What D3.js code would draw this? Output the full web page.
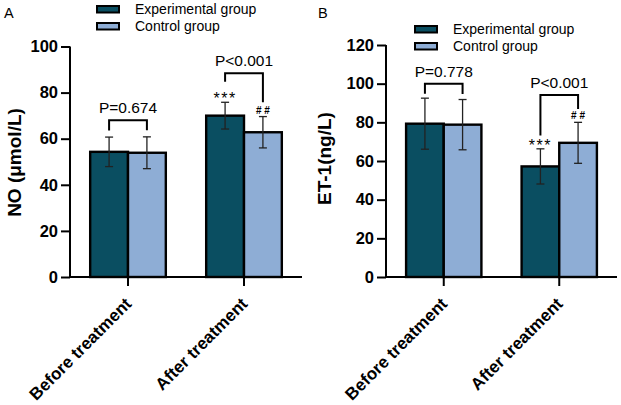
<!DOCTYPE html>
<html><head><meta charset="utf-8">
<script src="https://cdn.jsdelivr.net/npm/d3@7"></script>
<style>
html,body{margin:0;padding:0;background:#fff;}
svg{display:block;font-family:"Liberation Sans",Arial,Helvetica,sans-serif;}
</style></head>
<body>
<svg id="chart" width="621" height="405"></svg>
<script>
// ---- data ----
const categories = ["Before treatment", "After treatment"];
const seriesNames = ["Experimental group", "Control group"];

const noExp = [54.3, 70.0];
const noExpSd = [6.4, 5.8];
const noCtl = [53.9, 62.8];
const noCtlSd = [6.9, 6.8];

const etExp = [79.3, 57.2];
const etExpSd = [13.2, 9.1];
const etCtl = [78.8, 69.4];
const etCtlSd = [13.0, 10.6];

const noTicks = [0, 20, 40, 60, 80, 100];
const etTicks = [0, 20, 40, 60, 80, 100, 120];

const noPLabels = ["P=0.674", "P<0.001"];
const etPLabels = ["P=0.778", "P<0.001"];
const noMarks = [["", ""], ["***", "# #"]];
const etMarks = [["", ""], ["***", "# #"]];

// ---- style ----
const colors = ["#0a4e61", "#8eadd5"];
const svg = d3.select("#chart");

function panel(o) {
  const g = svg.append("g");
  const x = d3.scaleBand().domain(categories).range([o.left, o.right]).paddingInner(0.348).paddingOuter(0.174);
  const xs = d3.scaleBand().domain([0, 1]).range([0, x.bandwidth()]);
  const y = d3.scaleLinear().domain([0, o.max]).range([o.bottom, o.top]);
  const series = [o.exp, o.ctl];
  const sds = [o.expSd, o.ctlSd];

  // bars
  series.forEach((vals, s) => {
    g.selectAll(null).data(categories).enter().append("rect")
      .attr("x", d => x(d) + xs(s))
      .attr("width", xs.bandwidth())
      .attr("y", (d, i) => y(vals[i]))
      .attr("height", (d, i) => y(0) - y(vals[i]))
      .attr("fill", colors[s]).attr("stroke", "#000").attr("stroke-width", 2.4);
  });
  // error bars
  series.forEach((vals, s) => {
    categories.forEach((c, i) => {
      const cx = x(c) + xs(s) + xs.bandwidth() / 2;
      const y1 = y(vals[i] + sds[s][i]), y2 = y(vals[i] - sds[s][i]);
      g.append("line").attr("x1", cx).attr("x2", cx).attr("y1", y1).attr("y2", y2)
        .attr("stroke", "#222").attr("stroke-width", 1.3);
      [y1, y2].forEach(yy => g.append("line").attr("x1", cx - 4).attr("x2", cx + 4)
        .attr("y1", yy).attr("y2", yy).attr("stroke", "#222").attr("stroke-width", 1.3));
    });
  });

  // axes
  const ya = d3.axisLeft(y).tickValues(o.ticks).tickSize(9).tickPadding(3).tickFormat(d3.format("d"));
  const yg = g.append("g").attr("transform", `translate(${o.left},0)`).call(ya);
  yg.select(".domain").attr("stroke-width", 2).attr("d", `M-0,${o.top}V${o.bottom}`);
  yg.selectAll(".tick line").attr("stroke-width", 2);
  yg.selectAll(".tick text").attr("font-size", 16.5).attr("font-weight", "bold").attr("fill", "#000")
    .attr("font-family", '"Liberation Sans",Arial,sans-serif');

  const xa = d3.axisBottom(x).tickSize(9).tickFormat("");
  const xg = g.append("g").attr("transform", `translate(0,${o.bottom})`).call(xa);
  xg.select(".domain").attr("stroke-width", 2).attr("d", `M${o.left},0H${o.right}`);
  xg.selectAll(".tick line").attr("stroke-width", 2);
  categories.forEach(c => {
    const px = x(c) + x.bandwidth() / 2 + 4.5, py = o.bottom + 28;
    g.append("text").attr("transform", `translate(${px},${py}) rotate(-45)`)
      .attr("text-anchor", "end").attr("font-size", 17).attr("font-weight", "bold").text(c);
  });

  // y label
  g.append("text").attr("transform", `translate(${o.labelX},${o.labelY}) rotate(-90)`)
    .attr("text-anchor", "middle").attr("font-size", 19).attr("font-weight", "bold").text(o.label);

  // significance markers & brackets
  categories.forEach((c, i) => {
    const cxs = [0, 1].map(s => x(c) + xs(s) + xs.bandwidth() / 2);
    const tops = [0, 1].map(s => y(series[s][i] + sds[s][i]));
    if (o.marks[i][0]) g.append("text").attr("x", cxs[0]).attr("y", tops[0] + 2)
      .attr("text-anchor", "middle").attr("font-size", 16).attr("letter-spacing", 1.5).text(o.marks[i][0]);
    if (o.marks[i][1]) g.append("text").attr("x", cxs[1]).attr("y", tops[1] - 3)
      .attr("text-anchor", "middle").attr("font-size", 10).attr("font-weight", "bold").text(o.marks[i][1]);
    const br = o.brackets[i];
    const l0 = tops[0] - br.gap[0], l1 = tops[1] - br.gap[1];
    const top = Math.min(l0, l1) - br.rise;
    g.append("path").attr("d", `M${cxs[0]},${l0}V${top}H${cxs[1]}V${l1}`)
      .attr("fill", "none").attr("stroke", "#000").attr("stroke-width", 2);
    g.append("text").attr("x", (cxs[0] + cxs[1]) / 2).attr("y", top - 7)
      .attr("text-anchor", "middle").attr("font-size", 15.5).text(o.pLabels[i]);
  });

  // legend
  seriesNames.forEach((n, s) => {
    g.append("rect").attr("x", o.legX).attr("y", o.legY + s * 17).attr("width", 22).attr("height", 6.5)
      .attr("fill", colors[s]).attr("stroke", "#000").attr("stroke-width", 2);
    g.append("text").attr("x", o.legX + 38).attr("y", o.legY + s * 17 + 8)
      .attr("font-size", 14).text(n);
  });

  // panel letter
  g.append("text").attr("x", o.letterX).attr("y", 18).attr("font-size", 14.5).text(o.letter);
}

panel({
  left: 70, right: 302, top: 46.5, bottom: 277, max: 100,
  exp: noExp, expSd: noExpSd, ctl: noCtl, ctlSd: noCtlSd, ticks: noTicks,
  label: "NO (μmol/L)", labelX: 21, labelY: 162.5,
  pLabels: noPLabels, marks: noMarks,
  brackets: [{gap: [6.7, 6.7], rise: 10}, {gap: [20.6, 14.3], rise: 8.4}],
  legX: 97, legY: 6, letter: "A", letterX: 4
});
panel({
  left: 386, right: 617, top: 45, bottom: 277, max: 120,
  exp: etExp, expSd: etExpSd, ctl: etCtl, ctlSd: etCtlSd, ticks: etTicks,
  label: "ET-1(ng/L)", labelX: 331, labelY: 158.5,
  pLabels: etPLabels, marks: etMarks,
  brackets: [{gap: [4.4, 5.4], rise: 10}, {gap: [13.3, 13.4], rise: 14}],
  legX: 415, legY: 26, letter: "B", letterX: 318
});
</script>
</body></html>
